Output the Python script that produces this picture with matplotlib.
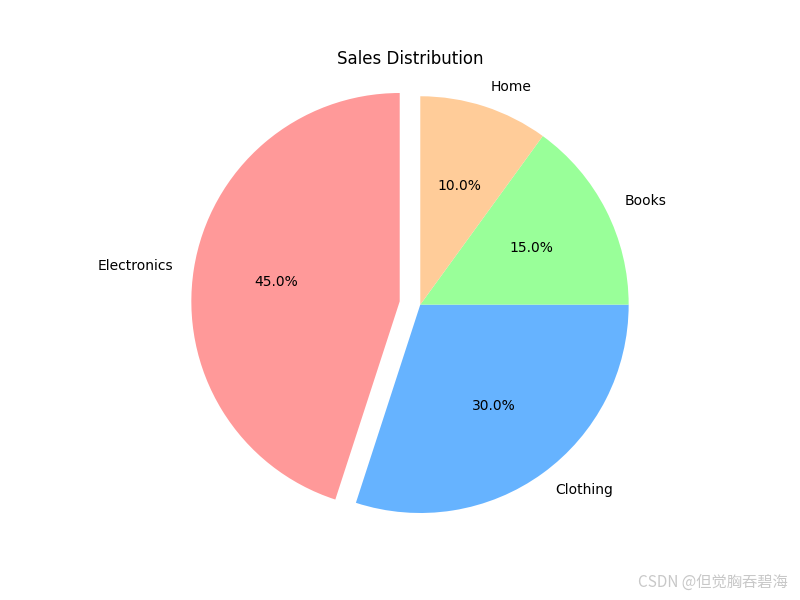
import matplotlib.pyplot as plt

labels = ['Electronics', 'Clothing', 'Books', 'Home']
sizes = [45, 30, 15, 10]
colors = ['#ff9999', '#66b3ff', '#99ff99', '#ffcc99']
explode = (0.1, 0, 0, 0)

fig = plt.figure(figsize=(8, 6), dpi=100)
plt.pie(sizes, explode=explode, labels=labels, colors=colors,
        autopct='%1.1f%%', startangle=90)
plt.axis('equal')
plt.title('Sales Distribution')

fig.text(0.985, 0.015, 'CSDN @但觉胸吞碧海', ha='right', va='bottom',
         fontsize=11, color='#c8c8c8',
         family=['Noto Sans CJK SC', 'DejaVu Sans'])

plt.savefig('out.png', dpi=100)
